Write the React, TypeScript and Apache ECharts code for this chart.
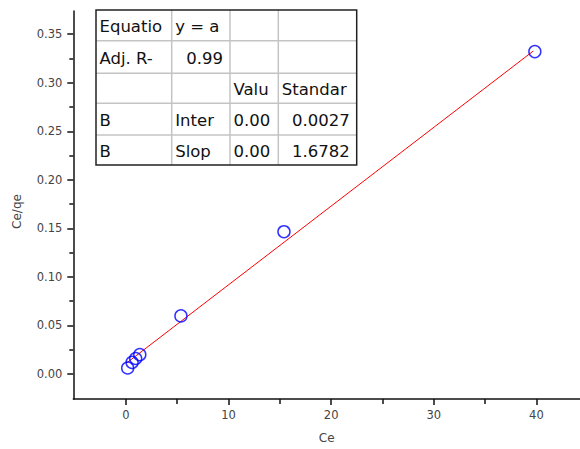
import React, { useEffect, useRef } from "react";
import * as echarts from "echarts";

// ---- data ----
const ceValues = [0.17, 0.6, 0.95, 1.35, 5.36, 15.4, 39.85];
const ceQeValues = [0.0062, 0.012, 0.016, 0.02, 0.0599, 0.1466, 0.3321];
const fitX = [0.07, 39.7];
const fitY = [0.0114, 0.3327];

const xLabelTicks = [0, 10, 20, 30, 40];
const xMinorTicks = [5, 15, 25, 35];
const yLabelTicks = [0, 0.05, 0.1, 0.15, 0.2, 0.25, 0.3, 0.35];
const yMinorTicks = [0.025, 0.075, 0.125, 0.175, 0.225, 0.275, 0.325];

const tableRows: string[][] = [
  ["Equatio", "y = a", "", ""],
  ["Adj. R-", "0.99", "", ""],
  ["", "", "Valu", "Standar"],
  ["B", "Inter", "0.00", "0.0027"],
  ["B", "Slop", "0.00", "1.6782"],
];
// alignment per cell: l = left, r = right
const tableAlign: string[][] = [
  ["l", "l", "l", "l"],
  ["l", "r", "l", "l"],
  ["l", "l", "l", "l"],
  ["l", "l", "l", "r"],
  ["l", "l", "l", "r"],
];

const FONT = "'DejaVu Sans', sans-serif";

export default function App() {
  const ref = useRef<HTMLDivElement>(null);
  useEffect(() => {
    if (!ref.current) return;
    const chart = echarts.init(ref.current, undefined, { renderer: "svg" });

    // table geometry
    const colX = [96, 171.7, 230, 278.3, 356.7];
    const rowY = [10, 40.7, 73.3, 103.3, 135, 165];
    const tableEls: any[] = [];
    tableEls.push({
      type: "rect",
      shape: { x: colX[0], y: rowY[0], width: colX[4] - colX[0], height: rowY[5] - rowY[0] },
      style: { fill: "#fff", stroke: "none" },
      z: 10,
    });
    for (let i = 1; i < colX.length - 1; i++) {
      tableEls.push({
        type: "line",
        shape: { x1: colX[i], y1: rowY[0], x2: colX[i], y2: rowY[5] },
        style: { stroke: "#c4c4c4", lineWidth: 1.5 },
        z: 11,
      });
    }
    for (let j = 1; j < rowY.length - 1; j++) {
      tableEls.push({
        type: "line",
        shape: { x1: colX[0], y1: rowY[j], x2: colX[4], y2: rowY[j] },
        style: { stroke: "#c4c4c4", lineWidth: 1.5 },
        z: 11,
      });
    }
    tableEls.push({
      type: "rect",
      shape: { x: colX[0], y: rowY[0], width: colX[4] - colX[0], height: rowY[5] - rowY[0] },
      style: { fill: "none", stroke: "#222", lineWidth: 1.5 },
      z: 12,
    });
    tableRows.forEach((row, r) => {
      row.forEach((txt, c) => {
        if (!txt) return;
        const right = tableAlign[r][c] === "r";
        tableEls.push({
          type: "text",
          x: right ? colX[c + 1] - 7 : colX[c] + 3.5,
          y: (rowY[r] + rowY[r + 1]) / 2 + 1,
          style: {
            text: txt,
            fill: "#111",
            font: `16.5px ${FONT}`,
            align: right ? "right" : "left",
            verticalAlign: "middle",
          },
          z: 13,
        });
      });
    });

    const scatterData = ceValues.map((x, i) => [x, ceQeValues[i]]);
    const fitData = fitX.map((x, i) => [x, fitY[i]]);

    const axisLabelStyle = {
      color: "#444",
      fontFamily: FONT,
      fontSize: 11.5,
    };

    chart.setOption({
      animation: false,
      backgroundColor: "#fff",
      grid: { left: 73.3, right: 0, top: 10.9, bottom: 49 },
      xAxis: [
        {
          type: "value",
          min: -5.13,
          max: 44.25,
          name: "Ce",
          nameLocation: "middle",
          nameGap: 33,
          nameTextStyle: { color: "#444", fontFamily: FONT, fontSize: 12 },
          axisLine: { onZero: false, lineStyle: { color: "#111", width: 1.5 } },
          axisTick: { show: true, length: 6, lineStyle: { color: "#111", width: 1.5 }, customValues: xLabelTicks },
          axisLabel: { ...axisLabelStyle, margin: 10, customValues: xLabelTicks },
          splitLine: { show: false },
        },
        {
          type: "value",
          min: -5.13,
          max: 44.25,
          position: "bottom",
          axisLine: { show: false, onZero: false },
          axisTick: { show: true, length: 5, lineStyle: { color: "#111", width: 1.5 }, customValues: xMinorTicks },
          axisLabel: { show: false },
          splitLine: { show: false },
        },
      ],
      yAxis: [
        {
          type: "value",
          min: -0.0257,
          max: 0.374,
          axisLine: { show: true, onZero: false, lineStyle: { color: "#111", width: 1.5 } },
          axisTick: { show: true, length: 6, lineStyle: { color: "#111", width: 1.5 }, customValues: yLabelTicks },
          axisLabel: {
            ...axisLabelStyle,
            margin: 11,
            customValues: yLabelTicks,
            formatter: (v: number) => v.toFixed(2),
          },
          splitLine: { show: false },
        },
        {
          type: "value",
          min: -0.0257,
          max: 0.374,
          position: "left",
          axisLine: { show: false, onZero: false },
          axisTick: { show: true, length: 4, lineStyle: { color: "#111", width: 1.5 }, customValues: yMinorTicks },
          axisLabel: { show: false },
          splitLine: { show: false },
        },
      ],
      graphic: [
        {
          type: "text",
          x: 17,
          y: 211.5,
          rotation: Math.PI / 2,
          style: {
            text: "Ce/qe",
            fill: "#444",
            font: `12px ${FONT}`,
            align: "center",
            verticalAlign: "middle",
          },
        },
        ...tableEls,
      ],
      series: [
        {
          type: "line",
          data: fitData,
          showSymbol: false,
          symbol: "none",
          lineStyle: { color: "#ff0000", width: 1 },
          z: 2,
        },
        {
          type: "scatter",
          data: scatterData,
          symbol: "circle",
          symbolSize: 12,
          itemStyle: { color: "transparent", borderColor: "#0000ff", borderWidth: 1.5 },
          z: 3,
        },
      ],
    });
    return () => chart.dispose();
  }, []);
  return (
    <div
      ref={ref}
      style={{ position: "absolute", left: 0, top: 0, width: 580, height: 449 }}
    />
  );
}
